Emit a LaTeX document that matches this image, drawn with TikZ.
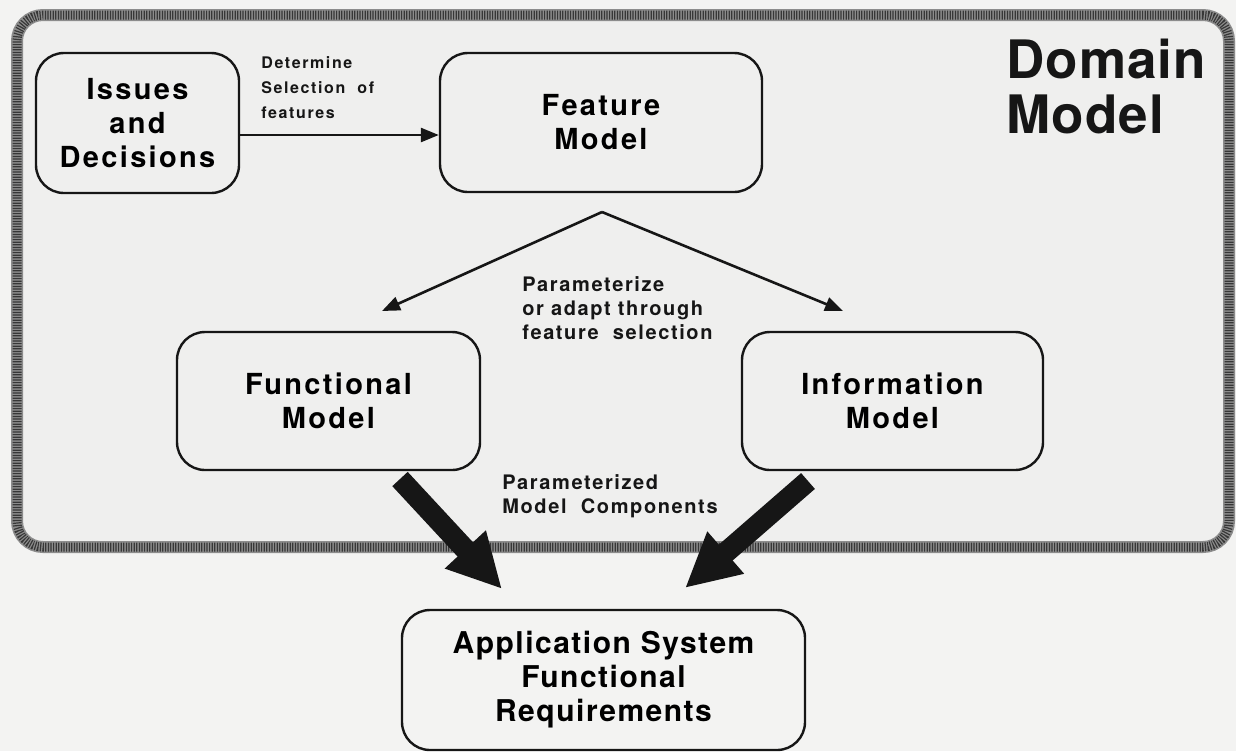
\documentclass[tikz,border=0pt]{standalone}
\usepackage{fontspec}
\setmainfont{TeX Gyre Heros}
\newfontfamily\boxfont[LetterSpace=8]{TeX Gyre Heros}
\newfontfamily\appfont[LetterSpace=5]{TeX Gyre Heros}
\newfontfamily\notefont[LetterSpace=10]{TeX Gyre Heros}
\newfontfamily\midfont[LetterSpace=8]{TeX Gyre Heros}
\newfontfamily\titlefont[LetterSpace=2]{TeX Gyre Heros}
\usetikzlibrary{arrows.meta}
\definecolor{paper}{RGB}{243,243,242}
\definecolor{panel}{RGB}{239,239,238}
\definecolor{rim}{RGB}{140,140,140}
\definecolor{rimdots}{RGB}{55,55,55}
\definecolor{ink}{RGB}{22,22,22}
\begin{document}
\begin{tikzpicture}[x=0.5pt,y=-0.5pt,
  modelbox/.style={draw=ink, line width=1.2pt, rounded corners=14pt, fill=panel,
    align=center, inner sep=0pt,
    font=\boxfont\bfseries\fontsize{14.5}{17}\selectfont},
  appbox/.style={modelbox, fill=paper,
    font=\appfont\bfseries\fontsize{15}{17}\selectfont},
  frame/.style={draw=rim, line width=6pt, rounded corners=13pt, fill=panel, inner sep=0pt},
  framedots/.style={draw=rimdots, line width=4.5pt, rounded corners=13pt, dash pattern=on 0.6pt off 0.7pt, inner sep=0pt},
  smallnote/.style={anchor=base west, align=left, inner sep=0pt, text=ink,
    font=\notefont\bfseries\fontsize{8}{12.5}\selectfont},
  midnote/.style={anchor=base west, align=left, inner sep=0pt, text=ink,
    font=\midfont\bfseries\fontsize{10}{12}\selectfont},
  title/.style={anchor=base west, align=left, inner sep=0pt, text=ink,
    font=\titlefont\bfseries\fontsize{26.5}{27.5}\selectfont},
  link/.style={draw=ink, line width=1.3pt, -{Triangle[length=9pt,width=7pt]}},
  fatlink/.style={draw=ink, line width=10.5pt, -{Triangle[length=27pt,width=26pt]}}
]
% page
\useasboundingbox (0,0) rectangle (1236,751);
\fill[paper] (0,0) rectangle (1236,751);

% domain model panel
\node[frame, minimum width=606pt, minimum height=266pt] (domain) at (623,281) {};
\node[framedots, minimum width=606pt, minimum height=266pt] (domainrim) at (623,281) {};
% multi-line notes are placed by the baseline of their last line
\node[title] (domaintitle) at (1006,133) {Domain\\Model};

% model boxes
\node[modelbox, minimum width=101.5pt, minimum height=70pt] (issues) at (137.5,123) {Issues\\and\\Decisions};
\node[modelbox, minimum width=161pt, minimum height=69.5pt] (feature) at (601,122.5) {Feature\\Model};
\node[modelbox, minimum width=151.5pt, minimum height=69pt] (functional) at (328.5,401) {Functional\\Model};
\node[modelbox, minimum width=150.5pt, minimum height=69pt] (information) at (892.5,401) {Information\\Model};
\node[appbox, minimum width=201.5pt, minimum height=70pt] (application) at (603.5,680) {Application System\\Functional\\Requirements};

% feature selection arrow
\coordinate (selfrom) at ([yshift=-6pt]issues.east);
\draw[link] (selfrom) -- (selfrom -| feature.west);
\node[smallnote] (selnote) at (261,118) {Determine\\Selection\ \ of\\features};

% fork from the feature model
\coordinate (fork) at (602,212);
\coordinate (forkleft) at (382,311);
\coordinate (forkright) at (843,311);
\draw[link] (fork) -- (forkleft);
\draw[link] (fork) -- (forkright);
\node[midnote] (forknote) at (522,339) {Parameterize\\or\ adapt\ through\\feature\ \ selection};

% parameterized components
\node[midnote] (compnote) at (502,513) {Parameterized\\Model\ \ Components};
\coordinate (funtail) at (400,479);
\coordinate (funtip) at (502,589);
\coordinate (inftail) at (808,481);
\coordinate (inftip) at (685,588);
\draw[fatlink] (funtail) -- (funtip);
\draw[fatlink] (inftail) -- (inftip);
\end{tikzpicture}
\end{document}
